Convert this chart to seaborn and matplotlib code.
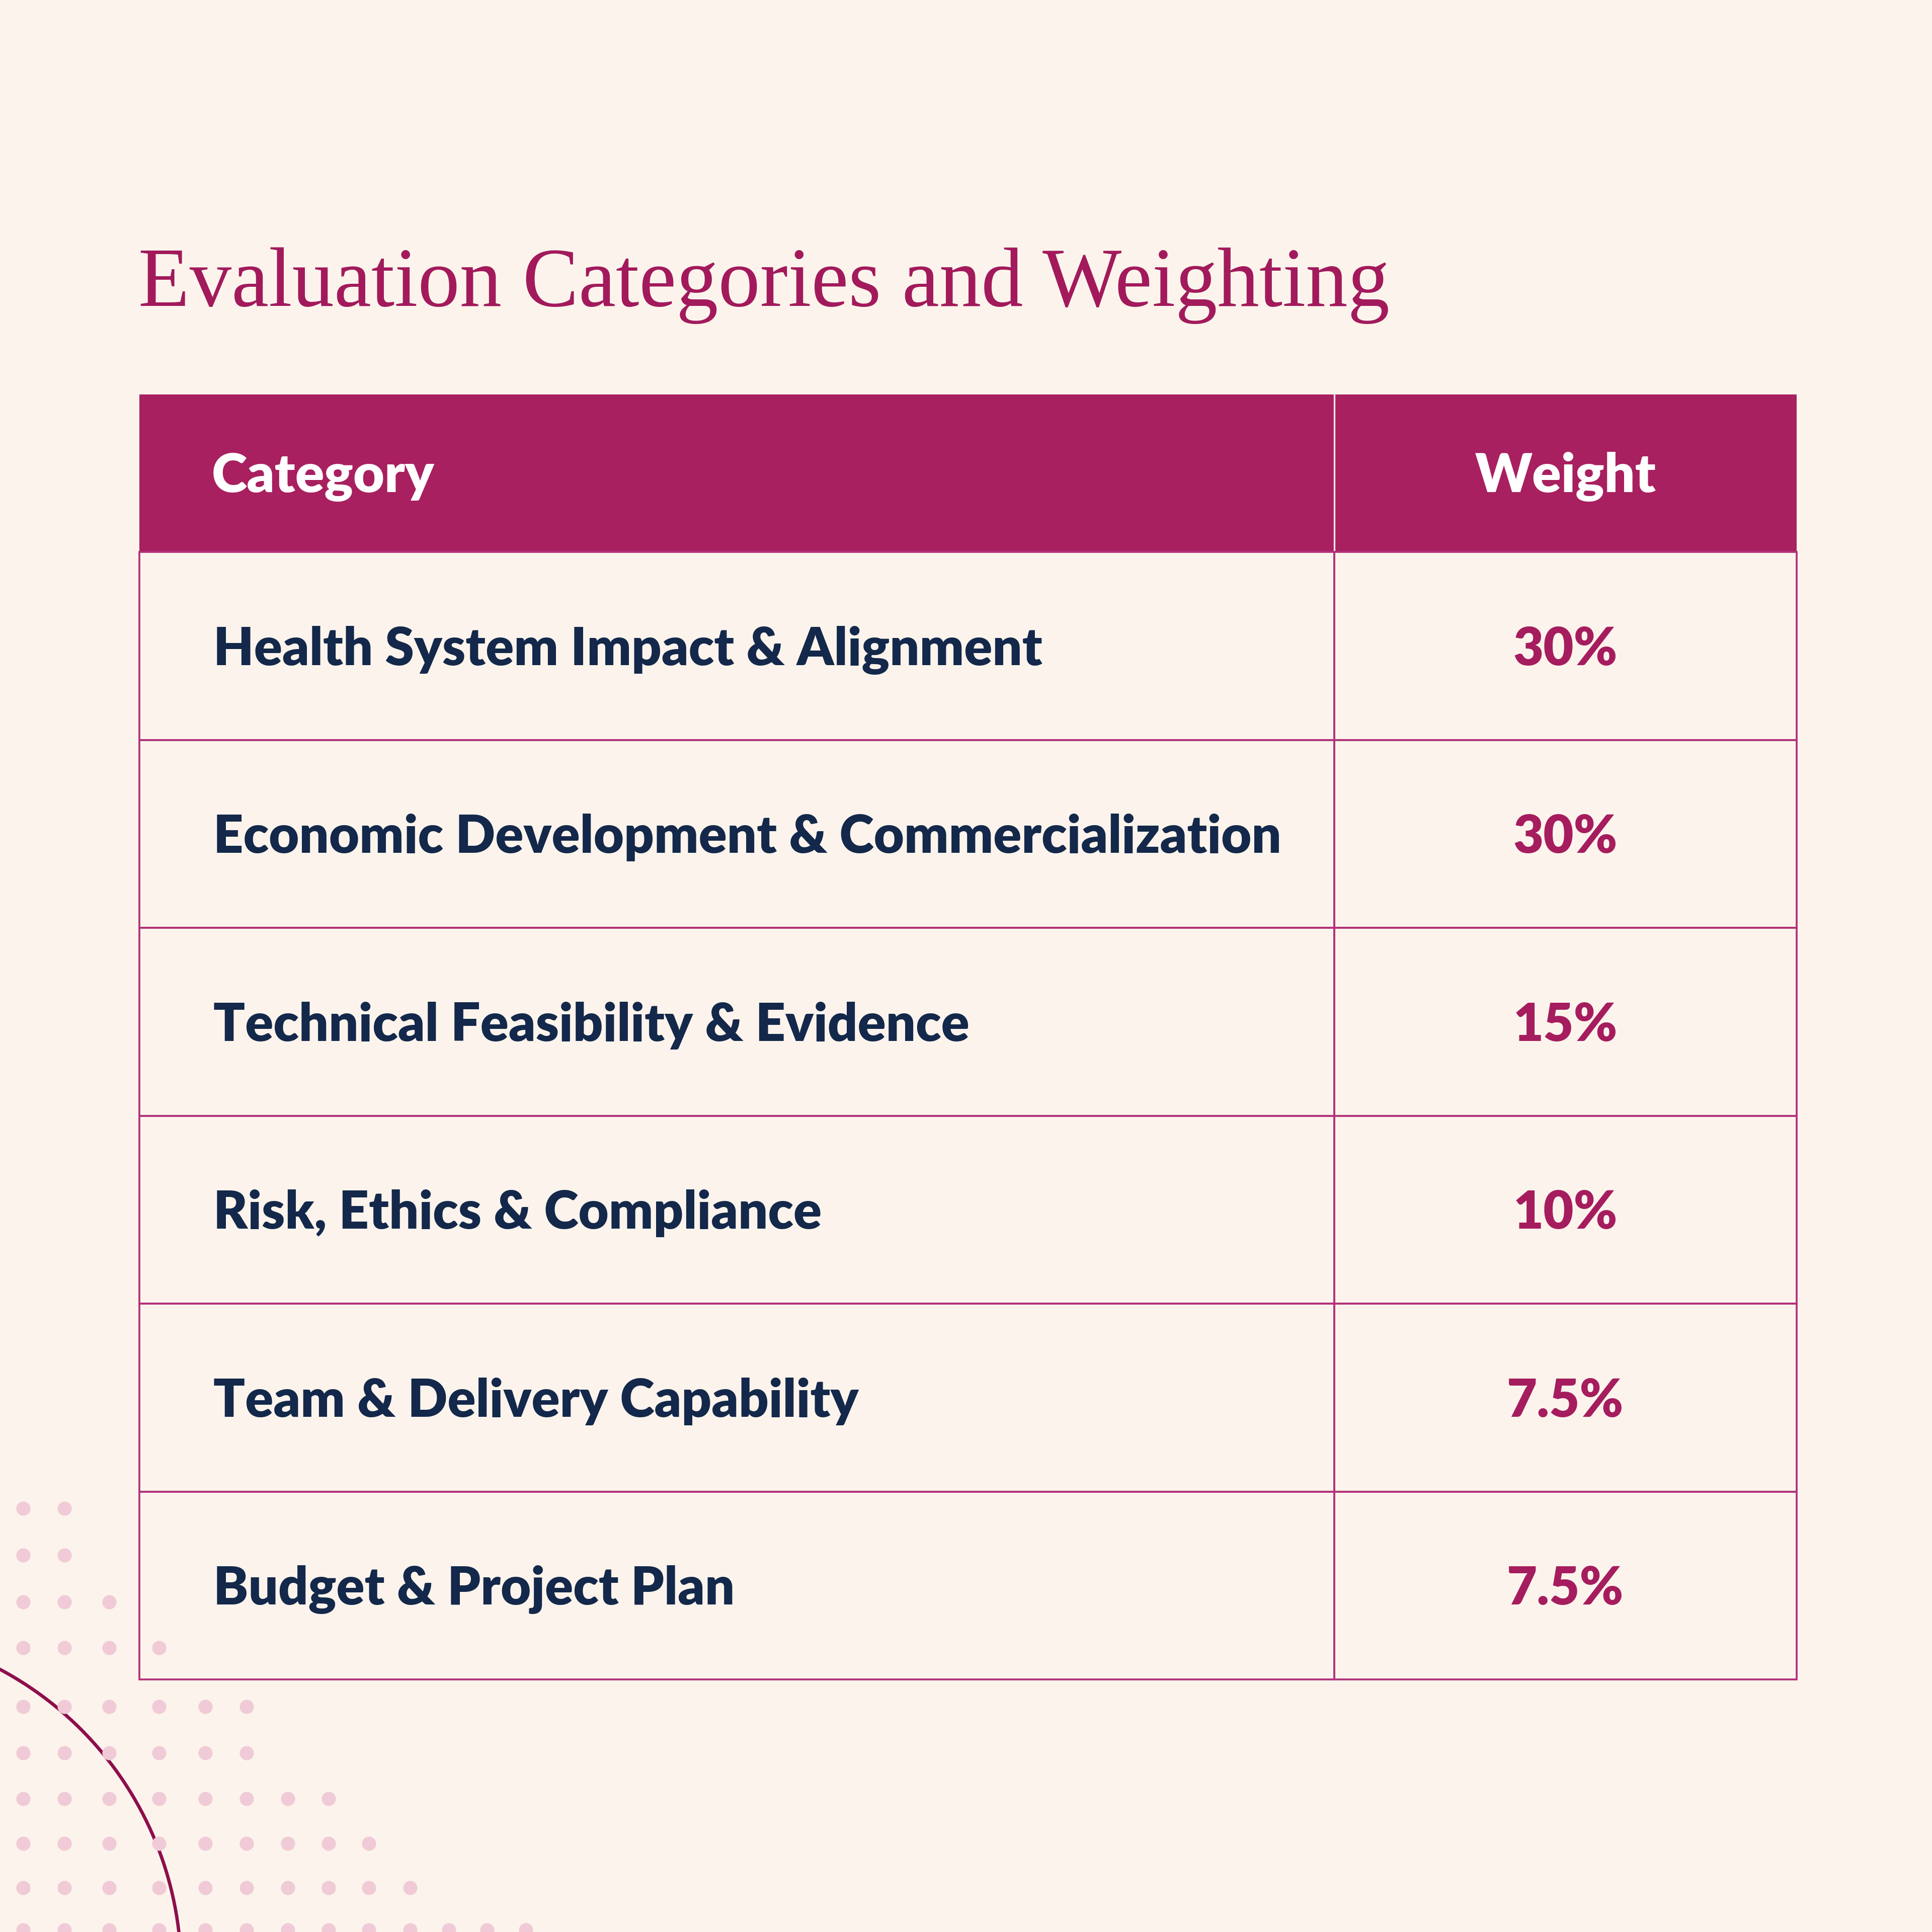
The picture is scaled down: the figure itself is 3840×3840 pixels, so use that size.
import matplotlib
matplotlib.use("Agg")
import matplotlib.pyplot as plt
from matplotlib import font_manager
from matplotlib.font_manager import FontProperties
from matplotlib.patches import Rectangle, Circle
from matplotlib.textpath import TextPath
import pandas as pd
import seaborn as sns

# --- content ---
title = "Evaluation Categories and Weighting"
header = ["Category", "Weight"]
categories = [
    "Health System Impact & Alignment",
    "Economic Development & Commercialization",
    "Technical Feasibility & Evidence",
    "Risk, Ethics & Compliance",
    "Team & Delivery Capability",
    "Budget & Project Plan",
]
weights = [30, 30, 15, 10, 7.5, 7.5]

# decorative dot pattern in the lower left corner (pixel coords)
dot_rows_y = [2998, 3091, 3184, 3275, 3392, 3484, 3575, 3664, 3752, 3836]
dot_counts = [2, 2, 3, 4, 6, 6, 8, 9, 10, 13]
dot_cols_x = [46, 128, 217, 316, 408, 490, 572, 653, 733, 815, 892, 968, 1045]

BG = "#FCF4EC"
HEAD = "#A8205F"
LINE = "#B2327A"
TITLE_C = "#A21A5C"
NAVY = "#13284A"
WEIGHT_C = "#A51D5E"
DOT = "#F0CBD7"
ARC = "#8E0E4C"

DPI = 300
W = 3840
BOLD = "heavy"

sns.set_theme(style="white")
installed = {f.name for f in font_manager.fontManager.ttflist}
sans = next(f for f in ["Liberation Sans Narrow", "Lato", "DejaVu Sans"] if f in installed or f == "DejaVu Sans")
serif = "Liberation Serif" if "Liberation Serif" in installed else "DejaVu Serif"
plt.rcParams["font.family"] = [sans, "DejaVu Sans"]


def ink(text, family, weight, size):
    # ink width / height in pixels of a string at a given point size
    tp = TextPath((0, 0), text, size=size, prop=FontProperties(family=family, weight=weight))
    e = tp.get_extents()
    return e.width * DPI / 72, e.height * DPI / 72


def fit(text, family, weight, target_px):
    w, _ = ink(text, family, weight, 40)
    return 40 * target_px / w


fig = plt.figure(figsize=(W / DPI, W / DPI), dpi=DPI, facecolor=BG)
ax = fig.add_axes([0, 0, 1, 1])
ax.set_facecolor(BG)

# dots
dots = pd.DataFrame(
    [(dot_cols_x[i], y) for y, n in zip(dot_rows_y, dot_counts) for i in range(n)],
    columns=["x", "y"],
)
sns.scatterplot(data=dots, x="x", y="y", s=46, color=DOT, linewidth=0,
                ax=ax, zorder=3, legend=False)

# arc
ax.add_patch(Circle((-320, 3918), 680, fill=False, ec=ARC, lw=1.6, zorder=2))

ax.set_xlim(0, W)
ax.set_ylim(W, 0)
ax.axis("off")

# title
title_fs = fit(title, serif, "normal", 2479)
ax.text(275, 608, title, fontsize=title_fs, family=serif, color=TITLE_C,
        ha="left", va="baseline")

# table geometry
left, right, mid_x = 277, 3571, 2652
top, head_bot, bottom = 784, 1097, 3338
row_h = (bottom - head_bot) / len(categories)
weight_x = (mid_x + right) / 2

body_fs = fit(max(categories, key=len), sans, BOLD, 2111)
_, cap = ink("H", sans, BOLD, body_fs)

# header
ax.add_patch(Rectangle((left, top), right - left, head_bot - top, fc=HEAD, ec="none", zorder=1))
ax.plot([mid_x, mid_x], [top, head_bot], color="#F6E3EA", lw=0.8, zorder=2)
hy = (top + head_bot) / 2 + cap / 2
ax.text(421, hy, header[0], fontsize=body_fs * 1.03, weight=BOLD, color="white", ha="left", va="baseline")
ax.text(weight_x, hy, header[1], fontsize=body_fs * 1.03, weight=BOLD, color="white", ha="center", va="baseline")

# body rows
for i, (cat, wt) in enumerate(zip(categories, weights)):
    y0 = head_bot + i * row_h
    ax.add_patch(Rectangle((left, y0), mid_x - left, row_h, fill=False, ec=LINE, lw=0.9, zorder=2))
    ax.add_patch(Rectangle((mid_x, y0), right - mid_x, row_h, fill=False, ec=LINE, lw=0.9, zorder=2))
    by = y0 + row_h / 2 + cap / 2
    ax.text(424, by, cat, fontsize=body_fs, weight=BOLD, color=NAVY, ha="left", va="baseline")
    ax.text(weight_x, by, f"{wt:g}%", fontsize=body_fs, weight=BOLD, color=WEIGHT_C,
            ha="center", va="baseline")

fig.savefig("out.png", dpi=DPI, facecolor=BG)
